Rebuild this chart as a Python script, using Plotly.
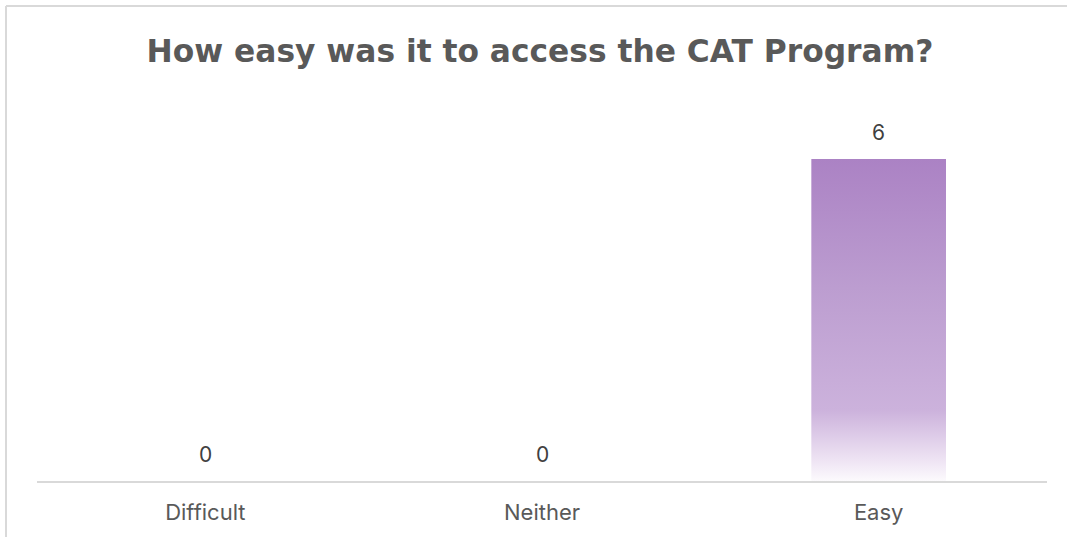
import plotly.graph_objects as go

categories = ["Difficult", "Neither", "Easy"]
values = [0, 0, 6]
title_text = "How easy was it to access the CAT Program?"

W, H = 1067, 537
ml, mr, mt, mb = 37, 20, 159, 56
bar_width = 0.4
pw, ph = W - ml - mr, H - mt - mb

fig = go.Figure()

idx = list(range(len(categories)))
for i, v in zip(idx, values):
    if v > 0:
        x0, x1 = i - bar_width / 2, i + bar_width / 2
        fig.add_trace(go.Scatter(
            x=[x0, x1, x1, x0, x0], y=[0, 0, v, v, 0],
            mode="lines", fill="toself", line=dict(width=0),
            fillgradient=dict(
                type="vertical",
                colorscale=[[0, "#FCFAFD"], [0.06, "#EFE5F4"], [0.22, "#CCB2DC"],
                            [0.6, "#BC9DD0"], [1, "#AB82C4"]],
                start=0, stop=v),
            hoverinfo="skip", showlegend=False))

for i, v in zip(idx, values):
    fig.add_annotation(x=i, y=v, text=str(v), showarrow=False,
                       yanchor="bottom", yshift=12,
                       font=dict(family="Inter", size=21, color="#404040"))

# chart border: only the top and left edges fall inside the view
bx0 = (6 - ml) / pw
by1 = ((H - mb) - 6) / ph
bxr = (W + 5 - ml) / pw
byb = ((H - mb) - (H + 5)) / ph
for sx0, sy0, sx1, sy1 in [(bx0, by1, bxr, by1), (bx0, by1, bx0, byb)]:
    fig.add_shape(type="line", xref="paper", yref="paper",
                  x0=sx0, y0=sy0, x1=sx1, y1=sy1,
                  line=dict(color="#D9D9D9", width=2), layer="below")

fig.update_layout(
    width=W, height=H,
    margin=dict(l=ml, r=mr, t=mt, b=mb, autoexpand=False),
    paper_bgcolor="white", plot_bgcolor="white",
    title=dict(text=f"<b>{title_text}</b>", x=540 / W, xanchor="center",
               y=1 - 51 / H, yanchor="middle", yref="container",
               font=dict(family="DejaVu Sans", size=31.3, color="#595959")),
    xaxis=dict(range=[-0.5, 2.5], tickvals=idx, ticktext=categories,
               showgrid=False, zeroline=False, showline=True, automargin=False,
               linecolor="#D9D9D9", linewidth=2, ticks="", ticklabelstandoff=11,
               tickfont=dict(family="Inter", size=22, color="#595959"),
               fixedrange=True),
    yaxis=dict(range=[0, 6], visible=False, automargin=False, fixedrange=True),
)

fig.write_html("out.html", config={"displayModeBar": False})
